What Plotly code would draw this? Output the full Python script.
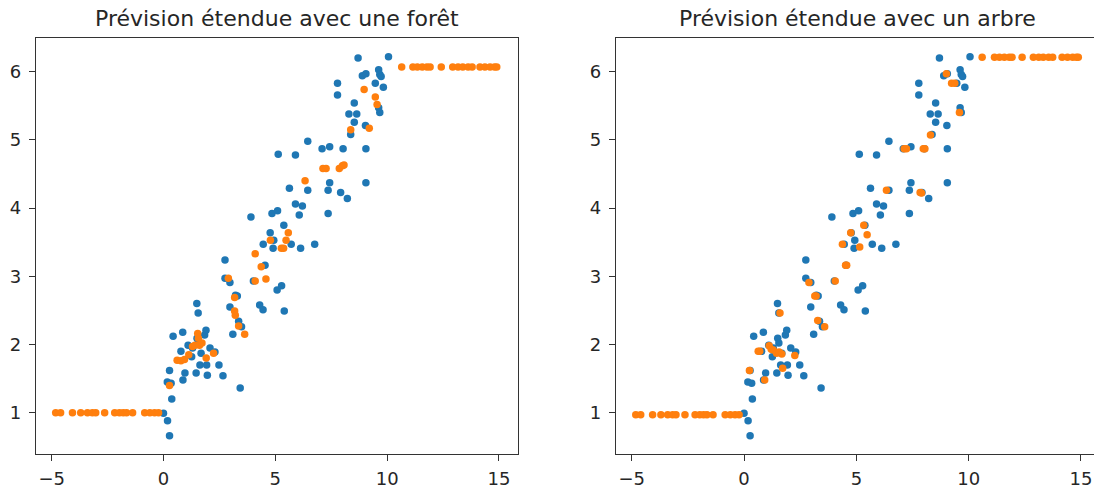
import plotly.graph_objects as go

# Training data (blue), same in both panels
train_x = [0.00, 0.18, 0.27, 0.37, 0.17, 0.27, 0.34, 0.43, 0.86, 0.78, 0.87, 0.96, 1.10, 1.26, 1.30,
           1.49, 1.55, 1.46, 1.50, 1.55, 1.63, 1.68, 1.84, 1.90, 1.93, 1.96, 2.08, 2.30, 2.48, 2.66,
           2.75, 2.75, 2.97, 2.97, 3.10, 3.22, 3.30, 3.36, 3.49, 3.43, 3.91, 4.02, 4.30, 4.45, 4.54,
           4.46, 4.85, 5.10, 4.77, 4.93, 4.90, 5.08, 5.28, 5.40, 5.38, 5.13, 5.63, 5.90, 5.90, 6.07,
           6.21, 6.13, 5.71, 6.45, 6.45, 6.76, 7.09, 7.43, 7.43, 7.36, 7.36, 7.78, 7.78, 8.03, 7.92,
           8.22, 8.29, 8.37, 8.53, 8.53, 8.64, 8.70, 8.89, 9.05, 9.03, 9.05, 9.05, 9.47, 9.62, 9.67,
           9.73, 9.83, 9.62, 9.67, 10.06]
train_y = [0.99, 0.88, 0.66, 1.20, 1.45, 1.62, 1.43, 2.12, 2.18, 1.90, 1.48, 1.58, 1.99, 1.82, 1.95,
           2.60, 2.46, 1.58, 2.09, 2.02, 1.70, 1.87, 2.14, 2.21, 1.70, 1.55, 1.95, 1.89, 1.70, 1.54,
           3.24, 2.97, 2.91, 2.55, 2.15, 2.72, 2.71, 2.34, 2.26, 1.36, 3.87, 2.93, 2.58, 2.51, 3.16,
           3.47, 3.92, 3.96, 3.64, 3.53, 3.41, 2.80, 2.86, 2.49, 3.75, 4.79, 4.29, 4.78, 4.06, 3.90,
           4.03, 3.41, 3.47, 4.98, 4.26, 3.47, 4.87, 4.90, 4.37, 4.26, 3.92, 5.83, 5.66, 4.87, 4.23,
           4.14, 5.38, 5.08, 5.54, 5.26, 5.38, 6.20, 5.94, 5.97, 5.21, 4.87, 4.37, 5.83, 6.03, 5.96,
           5.93, 5.77, 5.47, 5.40, 6.22]

# Extended forecast with a forest (orange, left panel)
forest_x = [-4.82, -4.60, -4.07, -3.70, -3.40, -3.18, -3.03, -2.63, -2.18, -1.97, -1.80, -1.65,
            -1.38, -0.84, -0.61, -0.40, -0.22,
            0.27, 0.61, 0.78, 0.94, 1.13, 1.30, 1.41, 1.53, 1.56, 1.61, 1.72, 1.91, 2.24, 2.90,
            3.18, 3.18, 3.21, 3.36, 3.63, 4.10, 4.10, 4.37, 4.58, 4.78, 5.27, 5.37, 5.48, 5.58,
            6.33, 7.13, 7.27, 7.86, 8.00, 8.07, 8.37, 8.97, 9.20, 9.47, 9.55,
            10.65, 11.15, 11.35, 11.57, 11.78, 11.92, 12.42, 12.93, 13.17, 13.38, 13.62, 13.80,
            14.15, 14.37, 14.60, 14.80, 14.90]
forest_y = [1.00, 1.00, 1.00, 1.00, 1.00, 1.00, 1.00, 1.00, 1.00, 1.00, 1.00, 1.00,
            1.00, 1.00, 1.00, 1.00, 1.00,
            1.40, 1.77, 1.76, 1.78, 1.85, 1.97, 1.99, 2.16, 2.09, 1.99, 2.02, 1.80, 1.87, 2.97,
            2.69, 2.49, 2.43, 2.27, 2.15, 3.33, 2.93, 3.14, 2.96, 3.53, 3.41, 3.41, 3.53, 3.64,
            4.40, 4.58, 4.58, 4.58, 4.62, 4.63, 5.15, 5.74, 5.17, 5.63, 5.52,
            6.07, 6.07, 6.07, 6.07, 6.07, 6.07, 6.07, 6.07, 6.07, 6.07, 6.07, 6.07,
            6.07, 6.07, 6.07, 6.07, 6.07]

# Extended forecast with a single tree (orange, right panel)
tree_x = [-4.82, -4.60, -4.07, -3.70, -3.40, -3.18, -3.03, -2.63, -2.18, -1.97, -1.80, -1.65,
          -1.38, -0.84, -0.61, -0.40, -0.22,
          0.24, 0.63, 0.70, 0.92, 1.12, 1.21, 1.30, 1.45, 1.56, 1.60, 1.68, 1.72, 2.26, 2.89,
          3.15, 3.21, 3.28, 3.59, 4.06, 4.38, 4.52, 4.57, 4.75, 5.15, 5.33, 5.48, 6.34, 7.13,
          7.23, 7.84, 7.90, 7.98, 8.05, 8.30, 9.01, 9.24, 9.38, 9.59,
          10.60, 11.15, 11.37, 11.59, 11.81, 11.93, 12.38, 12.88, 13.12, 13.32, 13.56, 13.74,
          14.16, 14.40, 14.63, 14.80, 14.88]
tree_y = [0.97, 0.97, 0.97, 0.97, 0.97, 0.97, 0.97, 0.97, 0.97, 0.97, 0.97, 0.97,
          0.97, 0.97, 0.97, 0.97, 0.97,
          1.62, 1.90, 1.90, 1.48, 1.98, 1.93, 1.92, 1.87, 1.89, 2.46, 1.86, 1.65, 1.84, 2.91,
          2.71, 2.71, 2.35, 2.26, 2.93, 3.47, 3.16, 3.16, 3.64, 3.43, 3.75, 3.61, 4.26, 4.87,
          4.87, 4.23, 4.22, 4.87, 4.87, 5.07, 5.97, 5.83, 5.83, 5.40,
          6.21, 6.21, 6.21, 6.21, 6.21, 6.21, 6.21, 6.21, 6.21, 6.21, 6.21, 6.21,
          6.21, 6.21, 6.21, 6.21, 6.21]

titles = ["Prévision étendue avec une forêt", "Prévision étendue avec un arbre"]
x_ticks = [-5, 0, 5, 10, 15]
x_ticktext = ["−5", "0", "5", "10", "15"]
y_ticks = [1, 2, 3, 4, 5, 6]

BLUE = "#1f77b4"
ORANGE = "#ff7f0e"
W, H = 1094, 490
FONT = "DejaVu Sans"
TXT = "#262626"

fig = go.Figure()
mk = dict(size=7.5, line=dict(width=0))
fig.add_trace(go.Scatter(x=train_x, y=train_y, mode="markers", marker=dict(color=BLUE, **mk),
                         xaxis="x", yaxis="y", showlegend=False))
fig.add_trace(go.Scatter(x=forest_x, y=forest_y, mode="markers", marker=dict(color=ORANGE, **mk),
                         xaxis="x", yaxis="y", showlegend=False))
fig.add_trace(go.Scatter(x=train_x, y=train_y, mode="markers", marker=dict(color=BLUE, **mk),
                         xaxis="x2", yaxis="y2", showlegend=False))
fig.add_trace(go.Scatter(x=tree_x, y=tree_y, mode="markers", marker=dict(color=ORANGE, **mk),
                         xaxis="x2", yaxis="y2", showlegend=False))

ydom = [(H - 454) / H, (H - 38) / H]
common_x = dict(tickmode="array", tickvals=x_ticks, ticktext=x_ticktext, ticks="outside",
                ticklen=6, tickwidth=1.2, tickcolor="#333", showline=True, linecolor="#333",
                linewidth=1.4, showgrid=False, zeroline=False,
                tickfont=dict(family=FONT, size=18, color=TXT), ticklabelstandoff=2)
common_y = dict(tickmode="array", tickvals=y_ticks, ticks="outside", ticklen=6, tickwidth=1.2,
                tickcolor="#333", showline=True, linecolor="#333", linewidth=1.4, showgrid=False,
                zeroline=False, tickfont=dict(family=FONT, size=18, color=TXT),
                ticklabelstandoff=4, range=[0.394, 6.494], domain=ydom)

fig.update_layout(
    width=W, height=H, margin=dict(l=0, r=0, t=0, b=0),
    plot_bgcolor="white", paper_bgcolor="white",
    xaxis=dict(domain=[36 / W, 518 / W], range=[-5.70, 15.85], mirror=True, anchor="y", **common_x),
    yaxis=dict(anchor="x", mirror=True, **common_y),
    xaxis2=dict(domain=[616 / W, 1.0], range=[-5.70, 15.58], mirror=True, anchor="y2", **common_x),
    yaxis2=dict(anchor="x2", mirror=False, **common_y),
    annotations=[
        dict(text=titles[0], x=277 / W, y=1 - 18 / H, xref="paper", yref="paper",
             xanchor="center", yanchor="middle", showarrow=False,
             font=dict(family=FONT, size=22, color=TXT)),
        dict(text=titles[1], x=857 / W, y=1 - 18 / H, xref="paper", yref="paper",
             xanchor="center", yanchor="middle", showarrow=False,
             font=dict(family=FONT, size=22, color=TXT)),
    ],
)

fig.write_html("out.html")
